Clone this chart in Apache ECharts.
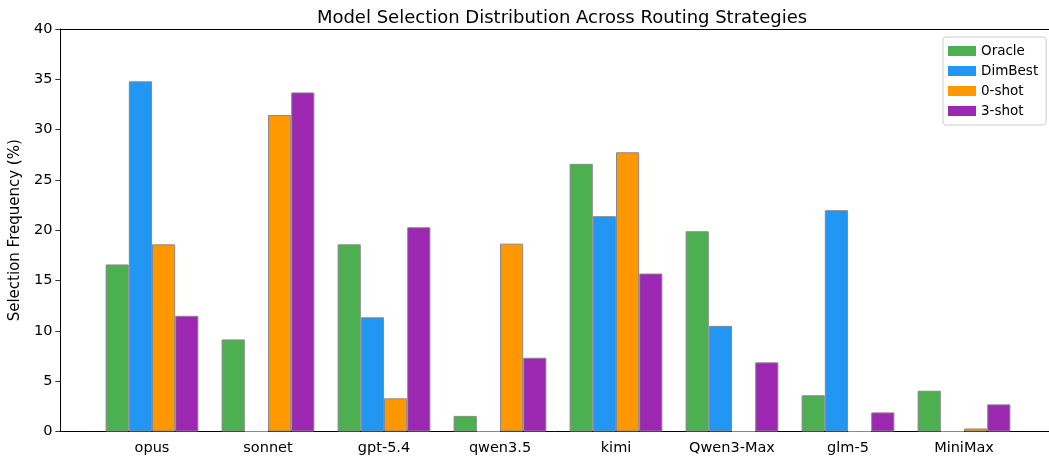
<!DOCTYPE html>
<html>
<head>
<meta charset="utf-8">
<script src="https://cdn.jsdelivr.net/npm/echarts@6/dist/echarts.min.js"></script>
<style>html,body{margin:0;padding:0;background:#fff}#c{width:1049px;height:459px}</style>
</head>
<body>
<div id="c"></div>
<script>
const categories = ['opus', 'sonnet', 'gpt-5.4', 'qwen3.5', 'kimi', 'Qwen3-Max', 'glm-5', 'MiniMax'];
const oracle  = [16.6, 9.15, 18.6, 1.55, 26.6, 19.9, 3.6, 4.05];
const dimBest = [34.8, 0, 11.35, 0, 21.4, 10.5, 22.0, 0];
const zeroShot = [18.6, 31.45, 3.3, 18.67, 27.75, 0, 0, 0.3];
const threeShot = [11.5, 33.7, 20.3, 7.33, 15.7, 6.87, 1.9, 2.7];
const yTicks = [0, 5, 10, 15, 20, 25, 30, 35, 40];

const font = 'DejaVu Sans';
const chart = echarts.init(document.getElementById('c'));
const colors = ['#4CAF50', '#2196F3', '#FF9800', '#9C27B0'];
const names = ['Oracle', 'DimBest', '0-shot', '3-shot'];
const values = [oracle, dimBest, zeroShot, threeShot];

chart.setOption({
  animation: false,
  textStyle: { fontFamily: font },
  title: {
    text: 'Model Selection Distribution Across Routing Strategies',
    left: 557, top: 4, textAlign: 'center',
    textStyle: { fontFamily: font, fontSize: 18, fontWeight: 'normal', color: '#000' }
  },
  legend: {
    orient: 'vertical', left: 943, top: 37,
    icon: 'rect',
    itemWidth: 28, itemHeight: 10, itemGap: 6,
    padding: [7, 8, 7, 5],
    borderColor: '#cccccc', borderWidth: 1, borderRadius: 3,
    textStyle: { fontFamily: font, fontSize: 13.5, color: '#000', lineHeight: 14 },
    data: names,
    itemStyle: { borderWidth: 0 }
  },
  grid: [
    { left: 94, right: 27, top: 29, bottom: 27.5 },
    { left: 60, right: -6, top: 29, bottom: 27.5 }
  ],
  xAxis: [
    {
      type: 'category', gridIndex: 0, data: categories,
      axisLine: { show: false },
      axisTick: { alignWithLabel: true, length: 5, lineStyle: { color: '#333', width: 1 } },
      axisLabel: { fontFamily: font, fontSize: 14.5, color: '#000', margin: 9 },
      splitLine: { show: false }
    },
    {
      type: 'value', gridIndex: 1, min: 0, max: 1, position: 'bottom',
      axisLine: { show: true, lineStyle: { color: '#000', width: 1 } },
      axisTick: { show: false }, axisLabel: { show: false }, splitLine: { show: false }
    },
    {
      type: 'value', gridIndex: 1, min: 0, max: 1, position: 'top',
      axisLine: { show: true, lineStyle: { color: '#000', width: 1 } },
      axisTick: { show: false }, axisLabel: { show: false }, splitLine: { show: false }
    }
  ],
  yAxis: [
    { type: 'value', gridIndex: 0, min: 0, max: 40, show: false },
    {
      type: 'value', gridIndex: 1, min: yTicks[0], max: yTicks[yTicks.length - 1], interval: 5,
      name: 'Selection Frequency (%)', nameLocation: 'middle', nameGap: 35.5,
      nameTextStyle: { fontFamily: font, fontSize: 15, color: '#000' },
      axisLine: { show: true, lineStyle: { color: '#000', width: 1 } },
      axisTick: { show: true, length: 5, lineStyle: { color: '#333' } },
      axisLabel: { fontFamily: font, fontSize: 14.5, color: '#000', margin: 8 },
      splitLine: { show: false }
    }
  ],
  series: names.map((n, i) => ({
    name: n, type: 'bar', xAxisIndex: 0, yAxisIndex: 0,
    data: values[i],
    barGap: '0%', barCategoryGap: '20%',
    itemStyle: { color: colors[i], borderColor: '#8a8a8a', borderWidth: 1 }
  }))
});
</script>
</body>
</html>
